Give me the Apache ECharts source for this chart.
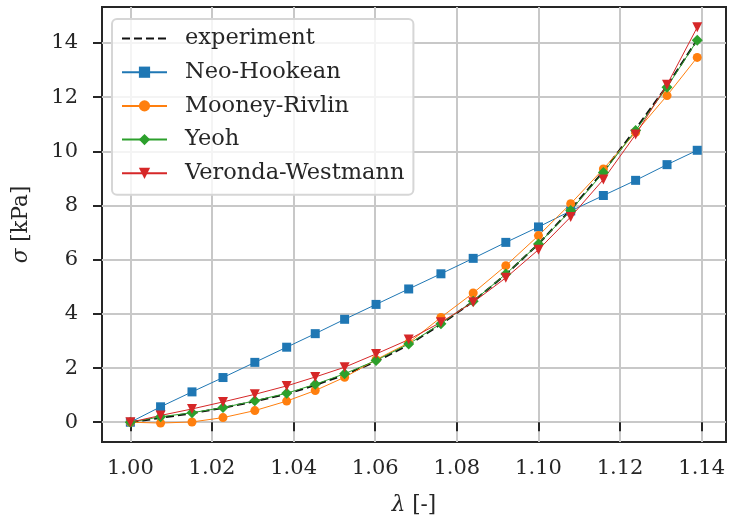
<!DOCTYPE html>
<html>
<head>
<meta charset="utf-8">
<script src="https://cdn.jsdelivr.net/npm/echarts@6/dist/echarts.min.js"></script>
<style>
  html, body { margin: 0; padding: 0; background: #fff; }
  #chart { width: 729px; height: 522px; }
</style>
</head>
<body>
<div id="chart"></div>
<script>
// stretch values (x)
var lambdaVals = [1.0000, 1.0074, 1.0151, 1.0227, 1.0305, 1.0383, 1.0453, 1.0525, 1.0602, 1.0682,
                  1.0761, 1.0840, 1.0920, 1.1000, 1.1079, 1.1159, 1.1238, 1.1315, 1.1389];
// stresses in kPa
var experiment = [0, 0.16, 0.33, 0.53, 0.77, 1.04, 1.37, 1.75, 2.24, 2.86, 3.62, 4.46, 5.46, 6.58, 7.85, 9.26, 10.82, 12.42, 14.12];
var neoHookean = [0, 0.57, 1.12, 1.65, 2.21, 2.77, 3.27, 3.80, 4.35, 4.92, 5.48, 6.05, 6.64, 7.21, 7.80, 8.37, 8.93, 9.51, 10.04];
var mooneyRivlin = [0, -0.03, 0.01, 0.17, 0.43, 0.78, 1.17, 1.66, 2.31, 2.93, 3.87, 4.77, 5.78, 6.89, 8.07, 9.35, 10.70, 12.06, 13.47];
var yeoh = [0, 0.20, 0.35, 0.54, 0.79, 1.07, 1.40, 1.79, 2.28, 2.89, 3.64, 4.47, 5.47, 6.58, 7.82, 9.22, 10.77, 12.37, 14.10];
var verondaWestmann = [0, 0.25, 0.49, 0.75, 1.03, 1.34, 1.67, 2.03, 2.52, 3.05, 3.69, 4.43, 5.33, 6.37, 7.58, 8.96, 10.62, 12.46, 14.58];

var xTicks = [1.00, 1.02, 1.04, 1.06, 1.08, 1.10, 1.12, 1.14];
var yTicks = [0, 2, 4, 6, 8, 10, 12, 14];

var FONT = 'DejaVu Serif';
var AX = '#262626';
var GRID = '#c8c8c8';

function pairs(ys) {
    return lambdaVals.map(function (x, i) { return [x, ys[i]]; });
}

function modelSeries(name, ys, color, symbol, size, rotate) {
    return {
        name: name,
        type: 'line',
        data: pairs(ys),
        symbol: symbol,
        symbolSize: size,
        symbolRotate: rotate || 0,
        showSymbol: true,
        lineStyle: { color: color, width: 1 },
        itemStyle: { color: color, borderWidth: 0 },
        animation: false,
        z: 3
    };
}

var chart = echarts.init(document.getElementById('chart'), null, { renderer: 'canvas' });

var option = {
    backgroundColor: '#ffffff',
    animation: false,
    grid: {
        left: 102, right: 3, top: 7, bottom: 80,
        show: true,
        borderColor: AX,
        borderWidth: 2,
        backgroundColor: '#ffffff',
        z: 0
    },
    legend: {
        orient: 'vertical',
        left: 112,
        top: 19,
        padding: [8, 9, 10, 9],
        itemWidth: 45,
        itemHeight: 14,
        itemGap: 10.7,
        backgroundColor: 'rgba(255,255,255,0.8)',
        borderColor: '#d6d6d6',
        borderWidth: 2,
        borderRadius: 5,
        textStyle: { fontFamily: FONT, fontSize: 22.5, color: '#262626', lineHeight: 22, padding: [0, 0, 0, 13] },
        data: [
            { name: 'experiment', itemStyle: { opacity: 0 } },
            'Neo-Hookean', 'Mooney-Rivlin', 'Yeoh', 'Veronda-Westmann'
        ],
        z: 10
    },
    xAxis: {
        type: 'value',
        min: 0.99305,
        max: 1.14595,
        name: '{i|λ} [-]',
        nameLocation: 'middle',
        nameGap: 52,
        nameTextStyle: {
            fontFamily: FONT, fontSize: 21.5, color: '#262626',
            rich: { i: { fontFamily: FONT, fontStyle: 'italic', fontSize: 21.5, color: '#262626' } }
        },
        axisLine: { show: false },
        axisTick: {
            show: true, inside: false, length: 9,
            customValues: xTicks,
            lineStyle: { color: AX, width: 2 }
        },
        axisLabel: {
            customValues: xTicks,
            margin: 16,
            fontFamily: FONT, fontSize: 21, color: '#262626',
            formatter: function (v) { return v.toFixed(2); }
        },
        splitLine: { show: true, lineStyle: { color: GRID, width: 2 } }
    },
    yAxis: {
        type: 'value',
        min: -0.73,
        max: 15.33,
        name: '{i|σ} [kPa]',
        nameLocation: 'middle',
        nameGap: 70,
        nameTextStyle: {
            fontFamily: FONT, fontSize: 21.5, color: '#262626',
            rich: { i: { fontFamily: FONT, fontStyle: 'italic', fontSize: 21.5, color: '#262626' } }
        },
        axisLine: { show: false },
        axisTick: {
            show: true, inside: false, length: 9,
            customValues: yTicks,
            lineStyle: { color: AX, width: 2 }
        },
        axisLabel: {
            customValues: yTicks,
            margin: 24,
            fontFamily: FONT, fontSize: 21, color: '#262626',
            formatter: function (v) { return String(v); }
        },
        splitLine: { show: true, lineStyle: { color: GRID, width: 2 } }
    },
    series: [
        {
            name: 'experiment',
            type: 'line',
            data: pairs(experiment),
            symbol: 'none',
            lineStyle: { color: '#111111', width: 2, type: [8, 4] },
            itemStyle: { color: '#111111' },
            z: 2
        },
        modelSeries('Neo-Hookean', neoHookean, '#1f77b4', 'rect', 9),
        modelSeries('Mooney-Rivlin', mooneyRivlin, '#ff7f0e', 'circle', 9),
        modelSeries('Yeoh', yeoh, '#2ca02c', 'diamond', 11),
        modelSeries('Veronda-Westmann', verondaWestmann, '#d62728', 'triangle', 10, 180)
    ]
};

chart.setOption(option);
</script>
</body>
</html>
